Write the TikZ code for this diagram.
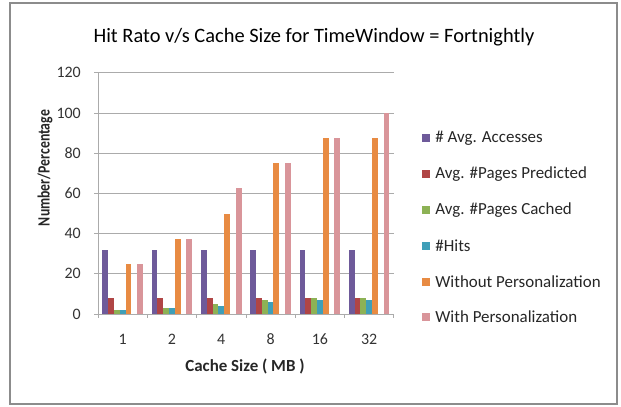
\documentclass[tikz,border=0pt]{standalone}
\usepackage{fontspec}
\setmainfont{Carlito}
\usetikzlibrary{positioning}

\definecolor{seraccess}{HTML}{6E5A9A}
\definecolor{serpredict}{HTML}{B04545}
\definecolor{sercached}{HTML}{8DB255}
\definecolor{serhits}{HTML}{3F9FB8}
\definecolor{serwithout}{HTML}{E88B43}
\definecolor{serwith}{HTML}{D9959A}
\definecolor{gridgray}{HTML}{ABABAB}

\tikzset{
  frame/.style={draw=black!45,line width=1.6bp},
  gridline/.style={draw=gridgray,line width=0.8bp},
  ticklabel/.style={font=\fontsize{16}{16}\selectfont,text=black!80,inner sep=0},
  axistitle/.style={font=\bfseries\fontsize{17}{17}\selectfont,text=black!85},
  legkey/.style={minimum size=8bp,inner sep=0},
  legtext/.style={font=\fontsize{17}{17}\selectfont,text=black!85,anchor=west,inner sep=0}
}

\begin{document}
\begin{tikzpicture}[x=1bp,y=-1bp]
\useasboundingbox (0,0) rectangle (621,406);
\draw[frame] (10,3) rectangle (617,404);

\node[font=\fontsize{20.5}{20.5}\selectfont,anchor=base] (title) at (314,42) {Hit Rato v/s Cache Size for TimeWindow = Fortnightly};

% plot area, origin at the axes, y in data units
\begin{scope}[shift={(98,314)},y=2.01bp]
\foreach \v in {20,40,...,120}
  \draw[gridline] (0,\v) -- (295.8,\v);
\foreach \v in {0,20,...,120}{
  \draw[gridline] (-4,\v) -- (0,\v);
  \node[ticklabel,anchor=east] (ylab\v) at (-17,\v) {\v};
}
\draw[gridline] (0,0) -- (0,120);
\draw[gridline] (0,0) -- (295.8,0);
\foreach \c in {0,...,6}
  \draw[gridline] (\c*49.3,0) -- (\c*49.3,-2);

% bars: one line per series
\foreach \h [count=\c from 0] in {32,32,32,32,32,32}
  \fill[seraccess] (\c*49.3+4.3,0) rectangle ++(5.8,\h);
\foreach \h [count=\c from 0] in {8,8,8,8,8,8}
  \fill[serpredict] (\c*49.3+10.1,0) rectangle ++(5.8,\h);
\foreach \h [count=\c from 0] in {2,3,5,7,8,8}
  \fill[sercached] (\c*49.3+15.9,0) rectangle ++(5.8,\h);
\foreach \h [count=\c from 0] in {2,3,4,6,7,7}
  \fill[serhits] (\c*49.3+21.7,0) rectangle ++(5.8,\h);
\foreach \h [count=\c from 0] in {25,37.5,50,75,87.5,87.5}
  \fill[serwithout] (\c*49.3+27.5,0) rectangle ++(5.8,\h);
\foreach \h [count=\c from 0] in {25,37.5,62.5,75,87.5,100}
  \fill[serwith] (\c*49.3+39.1,0) rectangle ++(5.8,\h);

\foreach \s [count=\c from 0] in {1,2,4,8,16,32}
  \node[ticklabel] (xlab\c) at (\c*49.3+24.65,-12.5) {\s};
\end{scope}

\node[axistitle] (xtitle) at (245,366) {Cache Size ( MB )};
\node[axistitle,font=\bfseries\fontsize{13.8}{13.8}\selectfont,rotate=90] (ytitle) at (45,168) {\scalebox{1}[1.25]{Number/Percentage}};

% legend
\node[legkey,fill=seraccess] (k1) at (426,138) {};
\node[legtext,right=5bp of k1] (t1) {\# Avg. Accesses};
\node[legkey,fill=serpredict] (k2) at (426,174) {};
\node[legtext,right=5bp of k2] (t2) {Avg. \#Pages Predicted};
\node[legkey,fill=sercached] (k3) at (426,210) {};
\node[legtext,right=5bp of k3] (t3) {Avg. \#Pages Cached};
\node[legkey,fill=serhits] (k4) at (426,246) {};
\node[legtext,right=5bp of k4] (t4) {\#Hits};
\node[legkey,fill=serwithout] (k5) at (426,282) {};
\node[legtext,right=5bp of k5] (t5) {Without Personalization};
\node[legkey,fill=serwith] (k6) at (426,317) {};
\node[legtext,right=5bp of k6] (t6) {With Personalization};
\end{tikzpicture}
\end{document}
